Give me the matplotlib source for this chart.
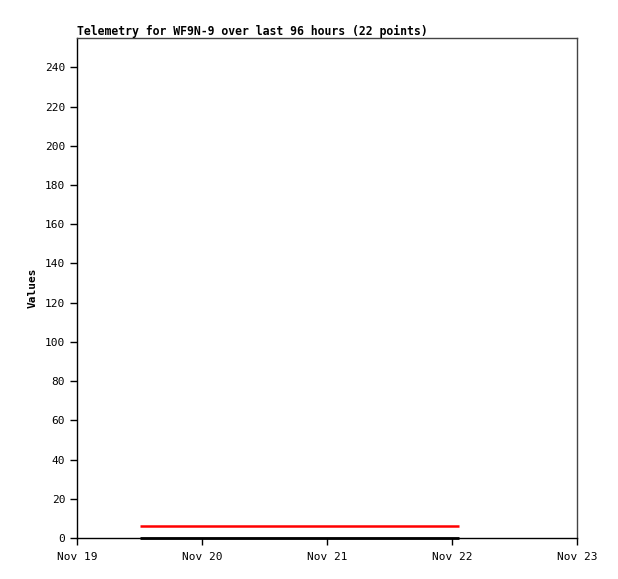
import numpy as np
import pandas as pd
import matplotlib
matplotlib.use('Agg')
import matplotlib.pyplot as plt
import matplotlib.dates as mdates

times = pd.to_datetime([
    '2024-11-19 12:05', '2024-11-19 15:00', '2024-11-19 17:55', '2024-11-19 20:50',
    '2024-11-19 23:45', '2024-11-20 02:40', '2024-11-20 05:35', '2024-11-20 08:30',
    '2024-11-20 11:25', '2024-11-20 14:20', '2024-11-20 17:15', '2024-11-20 20:10',
    '2024-11-20 23:05', '2024-11-21 02:00', '2024-11-21 04:55', '2024-11-21 07:50',
    '2024-11-21 10:45', '2024-11-21 13:40', '2024-11-21 16:35', '2024-11-21 19:30',
    '2024-11-21 22:25', '2024-11-22 01:20',
])
red_vals = [6.1] * 22
black_vals = [0.0] * 22

x_ticks = pd.to_datetime(['2024-11-19', '2024-11-20', '2024-11-21', '2024-11-22', '2024-11-23'])
x_labels = ['Nov 19', 'Nov 20', 'Nov 21', 'Nov 22', 'Nov 23']
y_ticks = list(range(0, 241, 20))

plt.rcParams['font.family'] = 'DejaVu Sans Mono'

fig = plt.figure(figsize=(6.18, 5.79), dpi=100)
ax = fig.add_axes([77/618, 41/579, 500/618, 500/579])

ax.plot(times, red_vals, color='#ff0000', lw=1.8, solid_capstyle='butt')
ax.plot(times, black_vals, color='black', lw=2.0, solid_capstyle='butt', clip_on=False)

ax.set_xlim(x_ticks[0], x_ticks[-1])
ax.set_ylim(0, 255)
ax.set_xticks(x_ticks)
ax.set_xticklabels(x_labels)
ax.set_yticks(y_ticks)
ax.tick_params(axis='both', labelsize=8, length=5, width=1, direction='out', color='black')
ax.tick_params(axis='x', pad=5)

for s in ax.spines.values():
    s.set_linewidth(1)
ax.spines['right'].set_color('#444444')
ax.spines['top'].set_color('#444444')

ax.set_ylabel('Values', fontsize=8, fontweight='bold', labelpad=5)
ax.set_title('Telemetry for WF9N-9 over last 96 hours (22 points)', loc='left',
             fontsize=8.3, fontweight='bold', pad=2)

fig.savefig('out.png', dpi=100)
